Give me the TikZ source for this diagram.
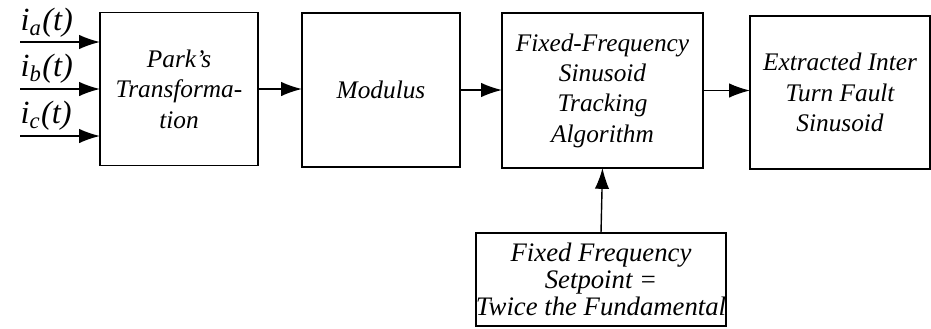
\documentclass[tikz,border=0pt]{standalone}
\usepackage{fontspec}
\setmainfont{Liberation Serif}
\usetikzlibrary{arrows.meta,positioning,calc}

\tikzset{
  blockbox/.style={draw,line width=0.5pt,inner sep=0pt,outer sep=0pt,align=center,
    font=\itshape\fontsize{9}{10.8}\selectfont},
  flowarrow/.style={line width=0.5pt,-{Latex[length=2.6mm,width=1.8mm]}},
  currlabel/.style={font=\itshape\fontsize{11.5}{14}\selectfont,inner sep=0pt,anchor=west}
}

\begin{document}
\begin{tikzpicture}[x=0.0125cm,y=-0.0125cm]
  \useasboundingbox (0,0) rectangle (931,328);
  % main chain
  \node[blockbox,minimum width=1.975cm,minimum height=1.9125cm] (park) at (179,89)
    {Park's\\Transforma-\\tion};
  \node[blockbox,minimum width=1.975cm,minimum height=1.925cm] (modulus) at (381,90)
    {Modulus};
  \node[blockbox,minimum width=2.5125cm,minimum height=1.9375cm] (tracker) at (602.5,90.5)
    {Fixed-Frequency\\Sinusoid\\Tracking\\Algorithm};
  \node[blockbox,minimum width=2.25cm,minimum height=1.9125cm] (extracted) at (840,92.5)
    {Extracted Inter\\Turn Fault\\Sinusoid};
  \node[blockbox,minimum width=3.125cm,minimum height=1.1625cm,
        font=\itshape\fontsize{9.5}{9.6}\selectfont] (setpoint) at (601,279.5)
    {Fixed Frequency\\Setpoint =\\Twice the Fundamental};

  % phase currents
  \coordinate (ina) at (20,42);
  \coordinate (inb) at (20,89);
  \coordinate (inc) at (20,136);
  \node[currlabel] (lbla) at (20,23) {i\textsubscript{a}(t)};
  \node[currlabel] (lblb) at (20,69) {i\textsubscript{b}(t)};
  \node[currlabel] (lblc) at (20,116) {i\textsubscript{c}(t)};
  \draw[flowarrow] (ina) -- (ina -| park.west);
  \draw[flowarrow] (inb) -- (inb -| park.west);
  \draw[flowarrow] (inc) -- (inc -| park.west);

  % connectors
  \draw[flowarrow] (park.east) -- (park.east -| modulus.west);
  \draw[flowarrow] (modulus.east) -- (modulus.east -| tracker.west);
  \draw[flowarrow] (tracker.east) -- (tracker.east -| extracted.west);
  \draw[flowarrow] (setpoint.north) -- (tracker.south);
\end{tikzpicture}
\end{document}
